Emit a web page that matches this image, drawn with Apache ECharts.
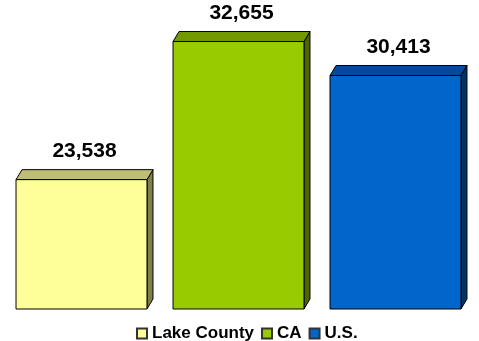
<!DOCTYPE html>
<html>
<head>
<meta charset="utf-8">
<script src="https://cdn.jsdelivr.net/npm/echarts@6/dist/echarts.min.js"></script>
<style>
  html, body { margin: 0; padding: 0; background: #fff; }
  #chart { width: 479px; height: 341px; }
</style>
</head>
<body>
<div id="chart"></div>
<script>
// Per-capita figures for the three regions
const categories = ['Lake County', 'CA', 'U.S.'];
const values = [23538, 32655, 30413];

// Front / top / side shades for each box
const frontColors = ['#FFFF99', '#99CC00', '#0066CC'];
const topColors = ['#BFBF73', '#739900', '#004C99'];
const sideColors = ['#7F7F4C', '#4C6600', '#003366'];

const Y_MIN = 15000;
const Y_MAX = 35000;
const DEPTH_X = 6;
const DEPTH_Y = 10;
const BAR_RATIO = 0.834;
const FONT = 'Arial, "Liberation Sans", Helvetica, sans-serif';

const fmt = v => v.toLocaleString('en-US');

function renderBox(params, api) {
  const idx = api.value(0);
  const val = api.value(1);
  const top = api.coord([idx, val]);
  const base = api.coord([idx, Y_MIN]);
  const band = api.size([1, 0])[0];
  const w = band * BAR_RATIO;
  const x0 = top[0] - w / 2;
  const x1 = top[0] + w / 2;
  const yT = top[1];
  const yB = base[1];
  const dx = DEPTH_X, dy = DEPTH_Y;
  const stroke = { stroke: '#000', lineWidth: 1 };
  return {
    type: 'group',
    children: [
      {
        type: 'polygon',
        shape: { points: [[x1, yT], [x1 + dx, yT - dy], [x1 + dx, yB - dy], [x1, yB]] },
        style: Object.assign({ fill: sideColors[idx] }, stroke)
      },
      {
        type: 'polygon',
        shape: { points: [[x0, yT], [x0 + dx, yT - dy], [x1 + dx, yT - dy], [x1, yT]] },
        style: Object.assign({ fill: topColors[idx] }, stroke)
      },
      {
        type: 'rect',
        shape: { x: x0, y: yT, width: w, height: yB - yT },
        style: Object.assign({ fill: frontColors[idx] }, stroke)
      },
      {
        type: 'text',
        x: top[0] + dx / 2,
        y: yT - dy - 8,
        style: {
          text: fmt(val),
          fill: '#000',
          font: 'bold 21px ' + FONT,
          textAlign: 'center',
          textVerticalAlign: 'bottom'
        }
      }
    ]
  };
}

const series = categories.map((name, i) => ({
  type: 'custom',
  name: name,
  renderItem: renderBox,
  itemStyle: { color: frontColors[i], borderColor: '#333', borderWidth: 1 },
  encode: { x: 0, y: 1 },
  data: [[i, values[i]]],
  animation: false
}));

const chart = echarts.init(document.getElementById('chart'), null, { renderer: 'canvas' });
chart.setOption({
  backgroundColor: '#fff',
  animation: false,
  grid: { left: 3, right: 5, top: 6, bottom: 32 },
  xAxis: {
    type: 'category',
    data: categories,
    show: false
  },
  yAxis: {
    type: 'value',
    min: Y_MIN,
    max: Y_MAX,
    show: false
  },
  legend: {
    left: 131,
    top: 320,
    itemWidth: 10,
    itemHeight: 10,
    itemGap: 7,
    icon: 'rect',
    textStyle: { fontFamily: FONT, fontWeight: 'bold', fontSize: 17, color: '#000' },
    data: categories
  },
  series: series
});
</script>
</body>
</html>
